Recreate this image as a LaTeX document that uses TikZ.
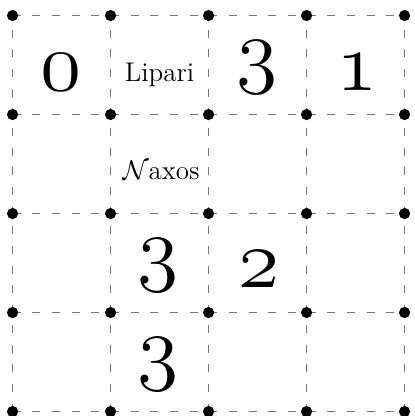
\RequirePackage{fix-cm}
\documentclass[tikz,border=0pt]{standalone}
\definecolor{gridgray}{RGB}{120, 120, 120}
\newcommand\osnum[1]{{\usefont{OML}{cmm}{m}{it}#1}}

\begin{document}
\begin{tikzpicture}[
  x=49pt, y=49.5pt,
  gridline/.style={gridgray, line width=0.75pt, dash pattern=on 4pt off 5.84pt},
  digit/.style={anchor=base, inner sep=0pt, font=\fontsize{42}{42}\selectfont},
  island/.style={anchor=base, inner sep=0pt, font=\fontsize{13.5}{15}\selectfont}
]
  \useasboundingbox (-0.128,-0.045) rectangle (4.097,4.157);
  % dashed grid
  \foreach \i in {0,...,4} {
    \draw[gridline] (\i,0) -- (\i,4);
    \draw[gridline] (0,\i) -- (4,\i);
  }
  % dots on the crossings
  \foreach \i in {0,...,4}
    \foreach \j in {0,...,4}
      \fill (\i,\j) circle (2.8pt);
  % first row
  \node[digit] (zero) at (0.5,3.24) {\osnum{0}};
  \node[island] (lipari) at (1.5,3.333) {Lipari};
  \node[digit] (threeA) at (2.49,3.374) {\osnum{3}};
  \node[digit] (one) at (3.52,3.24) {\osnum{1}};
  % second row
  \node[island] (naxos) at (1.515,2.348) {$\mathcal{N}$axos};
  % third and fourth rows
  \node[digit] (threeB) at (1.48,1.374) {\osnum{3}};
  \node[digit] (two) at (2.52,1.253) {\osnum{2}};
  \node[digit] (threeC) at (1.48,0.379) {\osnum{3}};
\end{tikzpicture}
\end{document}
